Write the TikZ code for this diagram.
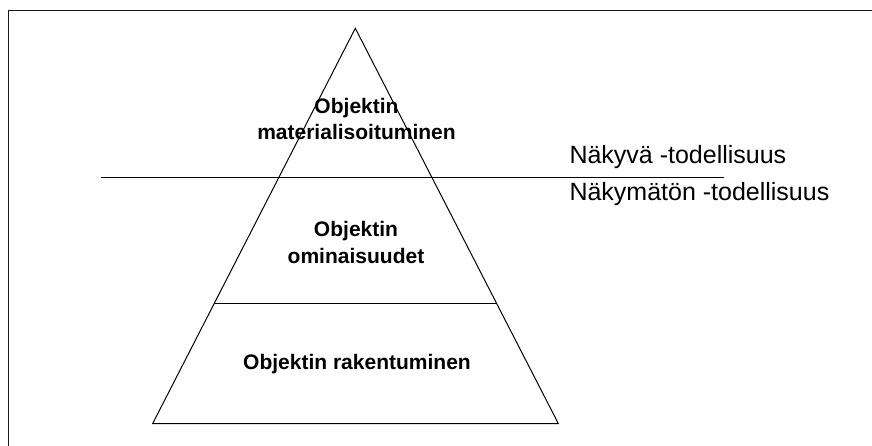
\documentclass[tikz,border=0pt]{standalone}
\usepackage{fontspec}
\setmainfont{Liberation Sans}
\usetikzlibrary{calc}
\begin{document}
\begin{tikzpicture}[x=1pt,y=-1pt,
  edge/.style={line width=1pt, black},
  frameline/.style={line width=1.9pt, black!90},
  level/.style={font=\fontsize{21}{26.7}\selectfont\bfseries, align=center, inner sep=0pt, anchor=base},
  realm/.style={font=\fontsize{25}{30}\selectfont, inner sep=0pt, anchor=base west}]
\useasboundingbox (0,0) rectangle (872,446);
% open frame: top and left edges
\draw[frameline] (8.5,446) -- (8.5,10.5) -- (872,10.5);
% pyramid
\coordinate (apex) at (355.3,28.3);
\coordinate (bl) at (152.7,423.5);
\coordinate (br) at (558.3,423.5);
\draw[edge] (apex) -- (br) -- (bl) -- cycle;
\coordinate (ml) at ($(apex)!0.6965!(bl)$);
\coordinate (mr) at ($(apex)!0.6965!(br)$);
\draw[edge] (ml) -- (mr);
% boundary between visible and invisible reality
\coordinate (hl) at (101,177.5);
\coordinate (hr) at (723.5,177.5);
\draw[edge] (hl) -- (hr);
% level labels
\node[level] (top) at (356.5,140) {Objektin\\materialisoituminen};
\node[level] (mid) at (356,263.3) {Objektin\\ominaisuudet};
\node[level] (bot) at (357,369.3) {Objektin rakentuminen};
% realm labels
\node[realm] (vis) at (569.3,163.3) {Näkyvä -todellisuus};
\node[realm] (invis) at (569.3,201) {Näkymätön -todellisuus};
\end{tikzpicture}
\end{document}
